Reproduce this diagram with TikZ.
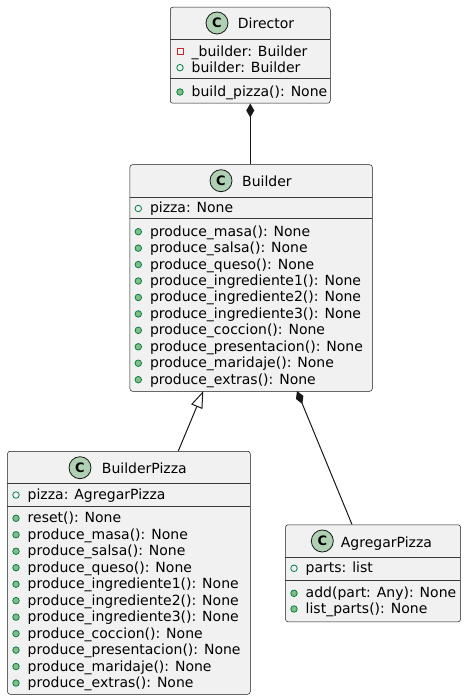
\documentclass[tikz,border=0pt]{standalone}
\usepackage{fontspec}
\setmainfont{DejaVu Sans}
\usetikzlibrary{arrows.meta}
\definecolor{boxfill}{HTML}{F1F1F1}
\definecolor{boxline}{HTML}{181818}
\definecolor{divline}{HTML}{3A3A3A}
\definecolor{cfill}{HTML}{ADD1B2}
\definecolor{privred}{HTML}{C82930}
\definecolor{pubgreen}{HTML}{038048}
\definecolor{pubfill}{HTML}{84BE84}
\tikzset{
 classbox/.style={draw=boxline, fill=boxfill, line width=0.5pt, rounded corners=2.5pt, inner sep=0pt, anchor=north west},
 divider/.style={draw=divline, line width=0.5pt},
 cicon/.style={circle, draw=boxline, fill=cfill, line width=0.8pt, minimum size=22pt, inner sep=0pt, font=\bfseries\fontsize{13}{13}\selectfont},
 member/.style={anchor=base west, inner sep=0pt, font=\fontsize{14}{14}\selectfont, text=black},
 privfield/.style={rectangle, draw=privred, line width=0.8pt, minimum size=6pt, inner sep=0pt},
 pubfield/.style={circle, draw=pubgreen, line width=0.8pt, minimum size=6.5pt, inner sep=0pt},
 pubmethod/.style={circle, draw=pubgreen, fill=pubfill, line width=0.8pt, minimum size=6.5pt, inner sep=0pt},
 link/.style={draw=boxline, line width=1pt},
}
\newcommand\crow[5]{%
  \node[#4] (#1i) at ({#2},{#3}) {};
  \node[member, xshift=11.5pt, yshift=-4.5pt] (#1) at ({#2},{#3}) {#5};}
\newcommand\chead[5]{%
  \node[cicon] (#1c) at ({#2},{#3}) {C};
  \node[member, yshift=-6pt] (#1n) at ({#4},{#3}) {#5};}
\begin{document}
\begin{tikzpicture}[x=1pt,y=-1pt]
\useasboundingbox (0,0) rectangle (466,700);
% boxes
\node[classbox, minimum width=160pt, minimum height=96pt] (director) at (170,7) {};
\node[classbox, minimum width=242.3pt, minimum height=226.5pt] (builder) at (129.7,164.5) {};
\node[classbox, minimum width=242.7pt, minimum height=243pt] (builderpizza) at (7.3,451) {};
\node[classbox, minimum width=175pt, minimum height=97pt] (agregar) at (285.3,524.5) {};
% dividers
\draw[divider] (170,39) -- (330,39);
\draw[divider] (170,78.5) -- (330,78.5);
\draw[divider] (129.7,197) -- (372,197);
\draw[divider] (129.7,218.5) -- (372,218.5);
\draw[divider] (7.3,483.5) -- (250,483.5);
\draw[divider] (7.3,506.5) -- (250,506.5);
\draw[divider] (285.3,557) -- (460.3,557);
\draw[divider] (285.3,580) -- (460.3,580);
% Director
\chead{dir}{217}{23}{237.7}{Director}
\crow{d1}{180}{51.7}{privfield}{\_builder: Builder}
\crow{d2}{180}{67.7}{pubfield}{builder: Builder}
\crow{d3}{180}{92}{pubmethod}{build\_pizza(): None}
% Builder
\chead{bld}{221}{180.7}{242}{Builder}
\crow{b0}{138.3}{208.5}{pubfield}{pizza: None}
\foreach \t [count=\k from 0] in {produce\_masa(): None,produce\_salsa(): None,produce\_queso(): None,produce\_ingrediente1(): None,produce\_ingrediente2(): None,produce\_ingrediente3(): None,produce\_coccion(): None,produce\_presentacion(): None,produce\_maridaje(): None,produce\_extras(): None}{
  \crow{bm\k}{138.3}{231.7+16.44*\k}{pubmethod}{\t}
}
% BuilderPizza
\chead{bp}{80}{467.7}{101.7}{BuilderPizza}
\crow{p0}{16}{495}{pubfield}{pizza: AgregarPizza}
\foreach \t [count=\k from 0] in {reset(): None,produce\_masa(): None,produce\_salsa(): None,produce\_queso(): None,produce\_ingrediente1(): None,produce\_ingrediente2(): None,produce\_ingrediente3(): None,produce\_coccion(): None,produce\_presentacion(): None,produce\_maridaje(): None,produce\_extras(): None}{
  \crow{pm\k}{16}{518.3+16.47*\k}{pubmethod}{\t}
}
% AgregarPizza
\chead{ag}{322.3}{541}{340.7}{AgregarPizza}
\crow{a0}{294}{568.3}{pubfield}{parts: list}
\crow{a1}{294}{593.3}{pubmethod}{add(part: Any): None}
\crow{a2}{294}{609}{pubmethod}{list\_parts(): None}
% connectors
\coordinate (inhTip) at (203.3,391);
\coordinate (inhBase) at (178.3,451);
\coordinate (compTop) at (297,391);
\coordinate (compBot) at (352,524.5);
\draw[link, {Diamond[length=14pt,width=8pt]}-] (director.south) -- (director.south |- builder.north);
\draw[link, -{Triangle[open,length=17pt,width=12pt,fill=white]}] (inhBase) -- (inhTip);
\draw[link, {Diamond[length=14pt,width=8pt]}-] (compTop) -- (compBot);
\end{tikzpicture}
\end{document}
